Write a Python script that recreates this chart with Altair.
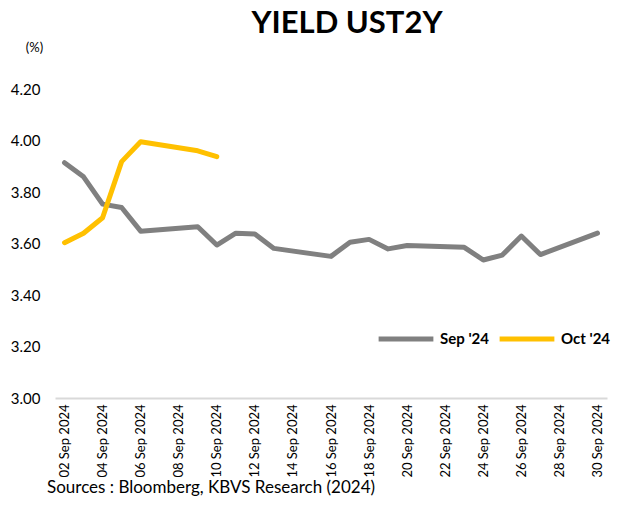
import altair as alt
import pandas as pd

sep_dates = ["2024-09-02", "2024-09-03", "2024-09-04", "2024-09-05", "2024-09-06",
             "2024-09-09", "2024-09-10", "2024-09-11", "2024-09-12", "2024-09-13",
             "2024-09-16", "2024-09-17", "2024-09-18", "2024-09-19", "2024-09-20",
             "2024-09-23", "2024-09-24", "2024-09-25", "2024-09-26", "2024-09-27",
             "2024-09-30"]
sep_values = [3.914, 3.859, 3.753, 3.740, 3.648, 3.665, 3.594, 3.640, 3.637, 3.581,
              3.550, 3.605, 3.616, 3.579, 3.592, 3.585, 3.536, 3.555, 3.629, 3.557,
              3.640]
oct_values = [3.603, 3.640, 3.700, 3.918, 3.995, 3.960, 3.937]
series_names = ["Sep '24", "Oct '24"]
series_colors = ["#808080", "#FFC000"]
y_ticks = [3.0, 3.2, 3.4, 3.6, 3.8, 4.0, 4.2]
x_tick_days = list(range(2, 31, 2))

FONT = "Lato"

sep_df = pd.DataFrame({"date": [d + "T00:00:00" for d in sep_dates],
                       "value": sep_values, "series": series_names[0]})
oct_df = pd.DataFrame({"date": [d + "T00:00:00" for d in sep_dates[:len(oct_values)]],
                       "value": oct_values, "series": series_names[1]})

x_enc = alt.X(
    "date:T",
    title=None,
    scale=alt.Scale(domain=[alt.DateTime(year=2024, month=9, date=1, hours=12),
                            alt.DateTime(year=2024, month=9, date=30, hours=12)]),
    axis=alt.Axis(
        values=[alt.DateTime(year=2024, month=9, date=d) for d in x_tick_days],
        format="%d %b %Y", labelAngle=270, labelAlign="right", labelBaseline="middle",
        labelFontSize=13, labelFont=FONT, labelColor="#000000", labelPadding=6,
        ticks=False, grid=False, domainColor="#D9D9D9", domainWidth=2,
        labelOverlap=False, labelFlush=False,
    ),
)
y_enc = alt.Y(
    "value:Q",
    title="(%)",
    scale=alt.Scale(domain=[3.0, 4.2], nice=False, zero=False),
    axis=alt.Axis(
        values=y_ticks, format=".2f", labelFontSize=15, labelFont=FONT,
        labelColor="#000000", labelPadding=15, ticks=False, domain=False, grid=False,
        titleAngle=0, titleX=-21, titleY=-42, titleAlign="center",
        titleBaseline="middle", titleFontSize=13, titleFont=FONT,
        titleFontWeight="normal", titleColor="#000000",
    ),
)
color_enc = alt.Color(
    "series:N",
    scale=alt.Scale(domain=series_names, range=series_colors),
    legend=alt.Legend(
        title=None, orient="none", legendX=321, legendY=220, direction="horizontal",
        symbolType="stroke", symbolStrokeWidth=5, symbolSize=3000,
        labelFontSize=15, labelFont=FONT, labelFontWeight="bold", labelColor="#000000",
        labelOffset=4, columnPadding=0,
    ),
)

sep_line = alt.Chart(sep_df).mark_line(strokeWidth=5, strokeCap="round", strokeJoin="round").encode(
    x=x_enc, y=y_enc, color=color_enc)
oct_line = alt.Chart(oct_df).mark_line(strokeWidth=5, strokeCap="round", strokeJoin="round").encode(
    x=x_enc, y=y_enc, color=color_enc)

title_df = pd.DataFrame({"t": ["YIELD UST2Y"]})
title_text = alt.Chart(title_df).mark_text(
    font=FONT, fontSize=31, fontWeight="bold", color="#000000",
    align="center", baseline="alphabetic").encode(
    text="t:N", x=alt.value(292), y=alt.value(-56))

src_df = pd.DataFrame({"t": ["Sources : Bloomberg, KBVS Research (2024)"]})
src_text = alt.Chart(src_df).mark_text(
    font=FONT, fontSize=17, color="#000000", align="left", baseline="alphabetic").encode(
    text="t:N", x=alt.value(-8), y=alt.value(404))

chart = alt.layer(sep_line, oct_line, title_text, src_text).properties(
    width=552, height=309,
    background="white",
    autosize=alt.AutoSizeParams(type="none"),
    padding={"left": 47, "top": 81, "right": 4, "bottom": 100},
).configure_view(strokeWidth=0)

chart.save("out.html", embed_options={"renderer": "svg", "actions": False})
